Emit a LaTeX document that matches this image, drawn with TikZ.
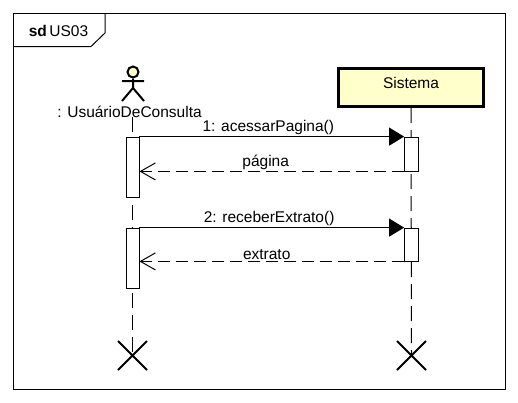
\documentclass[tikz,border=0pt]{standalone}
\usepackage{fontspec}
\setmainfont{Liberation Sans}
\usetikzlibrary{arrows.meta,positioning,shapes.misc,backgrounds}
\definecolor{actfill}{HTML}{FFFFCC}
\newcommand{\lblfont}{\fontsize{15.5}{18}\selectfont}
\tikzset{
  objbox/.style={draw,line width=3pt,fill=actfill,minimum width=145pt,minimum height=38pt,font=\lblfont},
  actbar/.style={draw,fill=white,line width=.8pt,minimum width=13pt,inner sep=0pt},
  life/.style={line width=1pt,dash pattern=on 15pt off 7pt},
  endx/.style={cross out,draw,line width=2pt,minimum size=27pt,inner sep=0pt},
  limb/.style={line width=2pt},
  msg/.style={line width=1pt,-{Triangle[length=15pt,width=18pt]}},
  ret/.style={line width=1pt,dash pattern=on 12pt off 6pt,-{Straight Barb[length=15pt,width=17pt,line width=1pt]}},
  lbl/.style={font=\lblfont,inner sep=0pt,above=1pt},
}
\begin{document}
\begin{tikzpicture}[x=1pt,y=-1pt]
\useasboundingbox (0,0) rectangle (518,402);
% frame
\node[draw,line width=1pt,minimum width=491.5pt,minimum height=375.5pt,inner sep=0pt] (frame) at (259.25,201.25) {};
\node[inner sep=0pt,font=\lblfont] (title) at (58.5,31) {\textbf{sd}\,US03};
\draw[line width=1pt] (frame.north west -| 105,13.5) -- (105,33) -- (91,46.5) -- (frame.west |- 0,46.5);
% actor
\node[circle,draw,line width=2pt,fill=actfill,minimum size=11pt,inner sep=0pt] (head) at (133,72) {};
\coordinate (hip) at (133,88);
\coordinate (handl) at (122,81);
\coordinate (handr) at (144,81);
\coordinate (footl) at (122,101);
\coordinate (footr) at (144,101);
\draw[limb] (head) -- (hip) (handl) -- (handr) (footl) -- (hip) -- (footr);
\node[font=\lblfont,inner sep=0pt] (usr) at (129.5,111.5) {: UsuárioDeConsulta};
\node[objbox] (sis) at (411,87.5) {\raisebox{10pt}{Sistema}};
% activations
\node[actbar,minimum height=60pt] (au1) at (132.5,167) {};
\node[actbar,minimum height=60pt] (au2) at (132.5,258) {};
\node[actbar,minimum width=14pt,minimum height=34pt] (as1) at (411.5,154) {};
\node[actbar,minimum width=14pt,minimum height=33pt] (as2) at (411.5,244.5) {};
\node[endx] (xu) at (132.5,355.5) {};
\node[endx] (xs) at (411.5,355.5) {};
\begin{scope}[on background layer]
\draw[life] (usr.south -| au1) -- (xu.center);
\draw[life] (sis.south) -- (xs.center);
\end{scope}
% messages
\draw[msg] (au1.north east) -- node[lbl,pos=.487] (m1) {1: acessarPagina()} (as1.north west);
\draw[ret] (as1.south west) -- node[lbl,pos=.523] (m2) {página} (au1.east |- as1.south);
\draw[msg] (au2.north east) -- node[lbl,pos=.49] (m3) {2: receberExtrato()} (as2.north west);
\draw[ret] (as2.south west) -- node[lbl,pos=.519] (m4) {extrato} (au2.east |- as2.south);
\end{tikzpicture}
\end{document}
